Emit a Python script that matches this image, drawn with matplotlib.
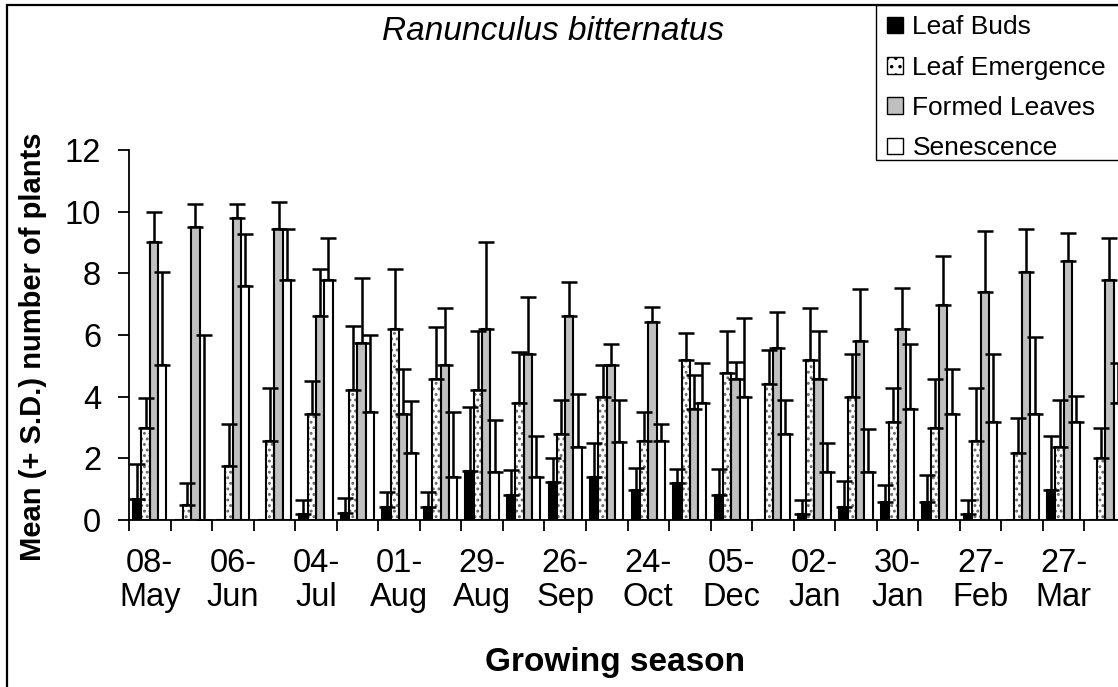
import matplotlib
matplotlib.use("Agg")
import matplotlib.pyplot as plt
import matplotlib.patches as patches
from matplotlib.patches import Patch
import numpy as np

plt.rcParams['font.family'] = ['Liberation Sans', 'DejaVu Sans']
plt.rcParams['hatch.linewidth'] = 1.3

# one label for every second sampling date
date_labels = ['08-\nMay', '06-\nJun', '04-\nJul', '01-\nAug', '29-\nAug', '26-\nSep',
               '24-\nOct', '05-\nDec', '02-\nJan', '30-\nJan', '27-\nFeb', '27-\nMar']
series_names = ['Leaf Buds', 'Leaf Emergence', 'Formed Leaves', 'Senescence']

buds_mean = [0.67, 0, 0, 0, 0.18, 0.24, 0.42, 0.42, 1.59, 0.8, 1.22, 1.41,
             0.97, 1.21, 0.8, 0, 0.18, 0.42, 0.59, 0.59, 0.18, 0, 0.97, 0]
buds_sd = [1.15, 0, 0, 0, 0.47, 0.48, 0.48, 0.48, 2.09, 0.83, 0.79, 1.08,
           0.73, 0.43, 0.84, 0, 0.47, 0.84, 0.56, 0.87, 0.47, 0, 1.77, 0]

emerg_mean = [3.0, 0.48, 1.76, 2.57, 3.43, 4.23, 6.18, 4.58, 4.23, 3.8, 2.8, 3.98,
              2.57, 5.19, 4.77, 4.4, 5.19, 3.98, 3.18, 3.0, 2.57, 2.18, 2.38, 2.01]
emerg_sd = [0.97, 0.72, 1.35, 1.71, 1.09, 2.07, 1.96, 1.67, 1.9, 1.65, 1.1, 1.05,
            0.92, 0.86, 1.36, 1.11, 1.67, 1.41, 1.1, 1.58, 1.71, 1.12, 1.52, 0.99]

formed_mean = [9.02, 9.5, 9.8, 9.44, 6.62, 5.75, 3.43, 5.03, 6.18, 5.39, 6.62, 5.03,
               6.43, 3.6, 4.58, 5.57, 4.58, 5.8, 6.18, 6.97, 7.41, 8.03, 8.4, 7.78]
formed_sd = [0.97, 0.74, 0.44, 0.86, 1.52, 2.1, 1.47, 1.83, 2.84, 1.84, 1.11, 0.67,
             0.49, 1.1, 0.56, 1.17, 1.55, 1.68, 1.36, 1.6, 1.96, 1.41, 0.92, 1.36]

senes_mean = [5.03, 0, 7.59, 7.78, 7.78, 3.49, 2.18, 1.41, 1.57, 1.41, 2.38, 2.54,
              2.57, 3.78, 3.98, 2.8, 1.57, 1.57, 3.6, 3.43, 3.18, 3.43, 3.18, 3.78]
senes_sd = [3.0, 6.0, 1.67, 1.66, 1.36, 2.51, 1.68, 2.08, 1.67, 1.33, 1.72, 1.36,
            0.54, 1.3, 2.58, 1.1, 0.92, 1.37, 2.1, 1.47, 2.21, 2.52, 0.85, 1.3]

W, H = 1118, 687
fig = plt.figure(figsize=(W / 100, H / 100), dpi=100)
ax = fig.add_axes([129 / W, 1 - 520 / H, 997 / W, 370 / H])

x = np.arange(len(buds_mean))
w = 0.2
means = [buds_mean, emerg_mean, formed_mean, senes_mean]
sds = [buds_sd, emerg_sd, formed_sd, senes_sd]
faces = ['black', 'white', '#c0c0c0', 'white']

for i in range(4):
    xs = x + (i - 1.5) * w
    m = np.array(means[i])
    s = np.array(sds[i])
    if i == 1:
        # dotted fill drawn in grey, then black outline on top
        ax.bar(xs, m, w, color='white', edgecolor='#666666', hatch='...', linewidth=0, zorder=2)
        ax.bar(xs, m, w, fill=False, edgecolor='black', linewidth=1.5, zorder=3)
    else:
        ax.bar(xs, m, w, color=faces[i], edgecolor='black', linewidth=1.5, zorder=2)
    keep = s > 0
    ax.errorbar(xs[keep], m[keep], yerr=[np.zeros(keep.sum()), s[keep]], fmt='none',
                ecolor='black', elinewidth=1.8, capsize=6, capthick=1.8, zorder=4)

ax.set_xlim(-0.5, 23.5)
ax.set_ylim(0, 12)
ax.set_yticks(np.arange(0, 13, 2))
ax.set_xticks(x[::2])
ax.set_xticklabels(date_labels)
ax.set_xticks(np.arange(-0.5, 24, 1), minor=True)
ax.tick_params(axis='x', which='major', length=0, pad=20, labelsize=23.5)
ax.tick_params(axis='x', which='minor', length=8, width=1.3, direction='out')
ax.tick_params(axis='y', length=8, width=1.3, direction='out', pad=12, labelsize=23.5)
for lbl in ax.get_xticklabels():
    lbl.set_linespacing(1.15)

for side in ['top', 'right']:
    ax.spines[side].set_visible(False)
for side in ['left', 'bottom']:
    ax.spines[side].set_linewidth(1.3)

fig.text(553 / W, 1 - 31 / H, 'Ranunculus bitternatus', style='italic', fontsize=24,
         ha='center', va='center')
fig.text(615 / W, 1 - 662 / H, 'Growing season', fontweight='bold', fontsize=24,
         ha='center', va='center')
fig.text(33 / W, 1 - 347 / H, 'Mean (+ S.D.) number of plants', fontweight='bold',
         fontsize=21, rotation=90, ha='center', va='center')

# outer chart border, cut off at the right and bottom like the source image
fig.patches.append(patches.Rectangle((7 / W, -0.1), 1.2, 1 - 5 / H + 0.1,
                                     transform=fig.transFigure, fill=False,
                                     edgecolor='black', linewidth=1.6))
fig.patches.append(patches.Rectangle((876 / W, 1 - 160 / H), 0.5, 155 / H,
                                     transform=fig.transFigure, fill=False,
                                     edgecolor='black', linewidth=1.0))

handles = [Patch(facecolor='black', edgecolor='black'),
           Patch(facecolor='white', edgecolor='black', hatch='..'),
           Patch(facecolor='#c0c0c0', edgecolor='black'),
           Patch(facecolor='white', edgecolor='black')]
fig.legend(handles, series_names, loc='upper left', bbox_to_anchor=(882 / W, 1 - 10 / H),
           frameon=False, fontsize=19, handlelength=0.6, handleheight=0.6,
           handletextpad=0.35, labelspacing=0.62, borderpad=0.2, borderaxespad=0)

fig.savefig('out.png', dpi=100)
